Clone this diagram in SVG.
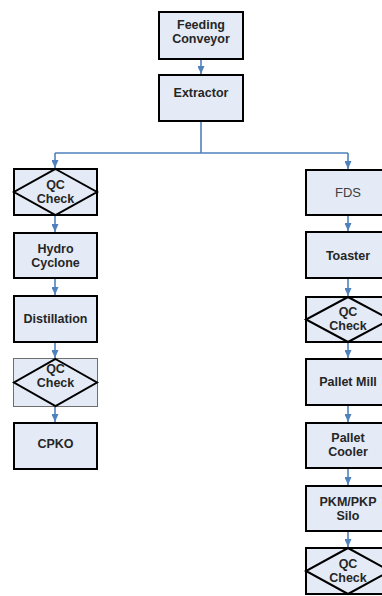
<svg xmlns="http://www.w3.org/2000/svg" width="382" height="596" viewBox="0 0 382 596">
<defs>
<style>
.box{fill:#E4EBF6;stroke:#000;stroke-width:2}
.box2{fill:#E4EBF6;stroke:#6E6E6E;stroke-width:1}
.dia{fill:none;stroke:#000;stroke-width:2;stroke-linejoin:miter}
.t{font-family:"Liberation Sans",Arial,sans-serif;font-size:12.5px;font-weight:bold;fill:#262626;text-anchor:middle;dominant-baseline:central}
.tn{font-family:"Liberation Sans",Arial,sans-serif;font-size:13px;fill:#404040;text-anchor:middle;dominant-baseline:central}
.c{fill:none;stroke:#4F81BD;stroke-width:1.6}
</style>
<marker id="ah" markerUnits="userSpaceOnUse" markerWidth="8" markerHeight="7" refX="8" refY="3.5" orient="auto">
<path d="M0,0 L8,3.5 L0,7 Z" fill="#4F81BD"/>
</marker>
</defs>

<g id="connectors">
<path class="c" d="M201,60 V74" marker-end="url(#ah)"/>
<path class="c" d="M201,122 V153 M55,153 H348"/>
<path class="c" d="M55,153 V168" marker-end="url(#ah)"/>
<path class="c" d="M348,153 V169" marker-end="url(#ah)"/>
<path class="c" d="M55,216 V232" marker-end="url(#ah)"/>
<path class="c" d="M55,279 V295" marker-end="url(#ah)"/>
<path class="c" d="M55,343 V358" marker-end="url(#ah)"/>
<path class="c" d="M55,407 V422" marker-end="url(#ah)"/>
<path class="c" d="M348,216 V231" marker-end="url(#ah)"/>
<path class="c" d="M348,279 V296" marker-end="url(#ah)"/>
<path class="c" d="M348,343 V358" marker-end="url(#ah)"/>
<path class="c" d="M348,406 V422" marker-end="url(#ah)"/>
<path class="c" d="M348,469 V485" marker-end="url(#ah)"/>
<path class="c" d="M348,532 V547" marker-end="url(#ah)"/>
</g>

<g id="feeding-conveyor">
<rect class="box" x="159" y="12" width="84" height="47"/>
<text class="t" x="201" y="24.5">Feeding</text>
<text class="t" x="201" y="38.5">Conveyor</text>
</g>
<g id="extractor">
<rect class="box" x="159" y="75" width="84" height="46"/>
<text class="t" x="201" y="93">Extractor</text>
</g>

<g id="qc-check-left-1">
<rect class="box" x="14" y="169" width="83" height="46"/>
<polygon class="dia" points="55.5,169 97,192 55.5,215 14,192"/>
<text class="t" x="55.5" y="185">QC</text>
<text class="t" x="55.5" y="199">Check</text>
</g>
<g id="hydro-cyclone">
<rect class="box" x="14" y="233" width="83" height="45"/>
<text class="t" x="55.5" y="248.5">Hydro</text>
<text class="t" x="55.5" y="262.5">Cyclone</text>
</g>
<g id="distillation">
<rect class="box" x="14" y="296" width="83" height="46"/>
<text class="t" x="55.5" y="318.5">Distillation</text>
</g>
<g id="qc-check-left-2">
<rect class="box2" x="13.5" y="358.5" width="84" height="48"/>
<polygon class="dia" points="55.5,359 97,382.5 55.5,406 14,382.5"/>
<text class="t" x="55.5" y="368.5">QC</text>
<text class="t" x="55.5" y="382.5">Check</text>
</g>
<g id="cpko">
<rect class="box" x="14" y="423" width="83" height="46"/>
<text class="t" x="55.5" y="444">CPKO</text>
</g>

<g id="fds">
<rect class="box" x="306" y="170" width="84" height="45"/>
<text class="tn" x="348" y="192">FDS</text>
</g>
<g id="toaster">
<rect class="box" x="306" y="232" width="84" height="46"/>
<text class="t" x="348" y="255.5">Toaster</text>
</g>
<g id="qc-check-right-1">
<rect class="box" x="306" y="297" width="84" height="45"/>
<polygon class="dia" points="348,297 390,319.5 348,342 306,319.5"/>
<text class="t" x="348" y="312">QC</text>
<text class="t" x="348" y="326">Check</text>
</g>
<g id="pallet-mill">
<rect class="box" x="306" y="359" width="84" height="46"/>
<text class="t" x="348" y="382">Pallet Mill</text>
</g>
<g id="pallet-cooler">
<rect class="box" x="306" y="423" width="84" height="45"/>
<text class="t" x="348" y="438">Pallet</text>
<text class="t" x="348" y="452">Cooler</text>
</g>
<g id="pkm-pkp-silo">
<rect class="box" x="306" y="486" width="84" height="45"/>
<text class="t" x="348" y="501.5">PKM/PKP</text>
<text class="t" x="348" y="515.5">Silo</text>
</g>
<g id="qc-check-right-2">
<rect class="box" x="306" y="548" width="84" height="46"/>
<polygon class="dia" points="348,548 390,571 348,594 306,571"/>
<text class="t" x="348" y="564">QC</text>
<text class="t" x="348" y="578">Check</text>
</g>
</svg>
